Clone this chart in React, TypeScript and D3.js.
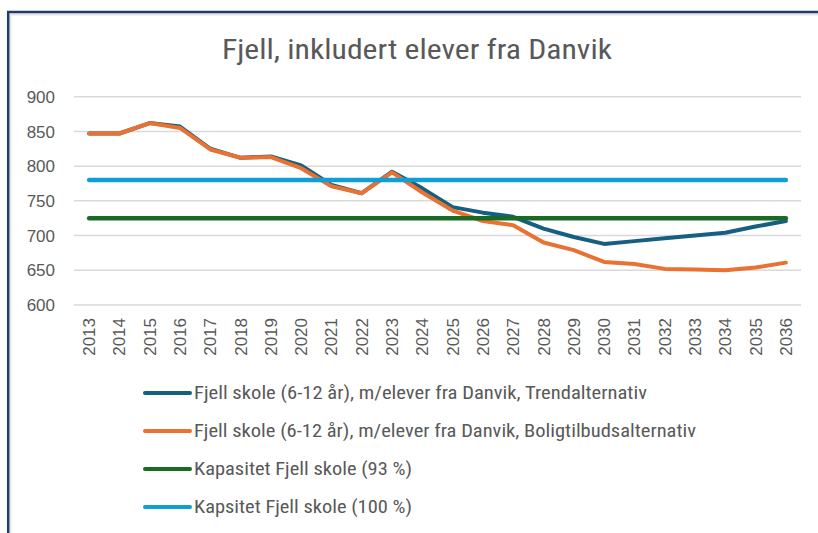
import React from "react";
import * as d3 from "d3";

const years = ["2013","2014","2015","2016","2017","2018","2019","2020","2021","2022","2023","2024","2025","2026","2027","2028","2029","2030","2031","2032","2033","2034","2035","2036"];
const trend = [847, 847, 862, 857, 825, 812, 814, 801, 773, 761, 792, 768, 741, 733, 727, 710, 698, 688, 692, 696, 700, 704, 713, 721];
const bolig = [847, 847, 862, 855, 824, 812, 813, 797, 771, 761, 791, 762, 736, 721, 715, 690, 679, 662, 659, 652, 651, 650, 654, 661];
const cap93 = years.map(() => 725);
const cap100 = years.map(() => 780);
const yTicks = [600, 650, 700, 750, 800, 850, 900];

const seriesNames = [
  "Fjell skole (6-12 år), m/elever fra Danvik, Trendalternativ",
  "Fjell skole (6-12 år), m/elever fra Danvik, Boligtilbudsalternativ",
  "Kapasitet Fjell skole (93 %)",
  "Kapsitet Fjell skole (100 %)",
];
const seriesColors = ["#156082", "#E97132", "#196B24", "#0F9ED5"];
const seriesData = [trend, bolig, cap93, cap100];
const legendWidths = [453, 502, 218, 218];

const W = 818, H = 533;
const textColor = "#595959";
const narrow = "'Liberation Sans Narrow', 'Roboto Condensed', 'Liberation Sans', Arial, sans-serif";
const sans = "'Liberation Sans', Arial, sans-serif";

export default function App() {
  const x = d3.scaleBand<string>().domain(years).range([74, 801]);
  const y = d3.scaleLinear().domain([600, 900]).range([305, 96.7]);
  const cx = (yr: string) => (x(yr) as number) + x.bandwidth() / 2;
  const line = d3.line<number>().x((_, i) => cx(years[i])).y((v) => y(v));

  return (
    <svg width={W} height={H} style={{ position: "absolute", left: 0, top: 0, background: "#fff" }}>
      <rect x={0} y={0} width={W} height={H} fill="#ffffff" />
      {/* frame */}
      <line x1={10.5} y1={14.5} x2={W} y2={14.5} stroke="#dfe4ea" strokeWidth={2} />
      <line x1={10.5} y1={14.5} x2={10.5} y2={H} stroke="#dfe4ea" strokeWidth={2} />
      <line x1={7} y1={12} x2={W} y2={12} stroke="#1d3f66" strokeWidth={2.5} />
      <line x1={8.2} y1={11} x2={8.2} y2={H} stroke="#1d3f66" strokeWidth={2.5} />

      <text x={417} y={59} textAnchor="middle" fontFamily={narrow} fontSize={27} fill={textColor} textLength={390} lengthAdjust="spacingAndGlyphs">
        Fjell, inkludert elever fra Danvik
      </text>

      {yTicks.map((t) => (
        <g key={t}>
          <line x1={74} x2={801} y1={y(t)} y2={y(t)} stroke="#d9d9d9" strokeWidth={1.5} />
          <text x={55} y={y(t)} dy="0.36em" textAnchor="end" fontFamily={sans} fontSize={17} fill={textColor}>
            {t}
          </text>
        </g>
      ))}

      {years.map((yr) => (
        <text key={yr} transform={`translate(${cx(yr) + 6},318) rotate(-90)`} textAnchor="end" fontFamily={sans} fontSize={17} fill={textColor}>
          {yr}
        </text>
      ))}

      {seriesData.map((d, i) => (
        <path key={i} d={line(d) || ""} fill="none" stroke={seriesColors[i]} strokeWidth={i < 2 ? 4 : 4.5} strokeLinejoin="round" strokeLinecap="round" />
      ))}

      {seriesNames.map((name, i) => {
        const ly = 393 + i * 38;
        return (
          <g key={name}>
            <line x1={145} x2={190} y1={ly} y2={ly} stroke={seriesColors[i]} strokeWidth={4} strokeLinecap="round" />
            <text x={194} y={ly} dy="0.36em" fontFamily={narrow} fontSize={18} fill={textColor} textLength={legendWidths[i]} lengthAdjust="spacingAndGlyphs">
              {name}
            </text>
          </g>
        );
      })}
    </svg>
  );
}
